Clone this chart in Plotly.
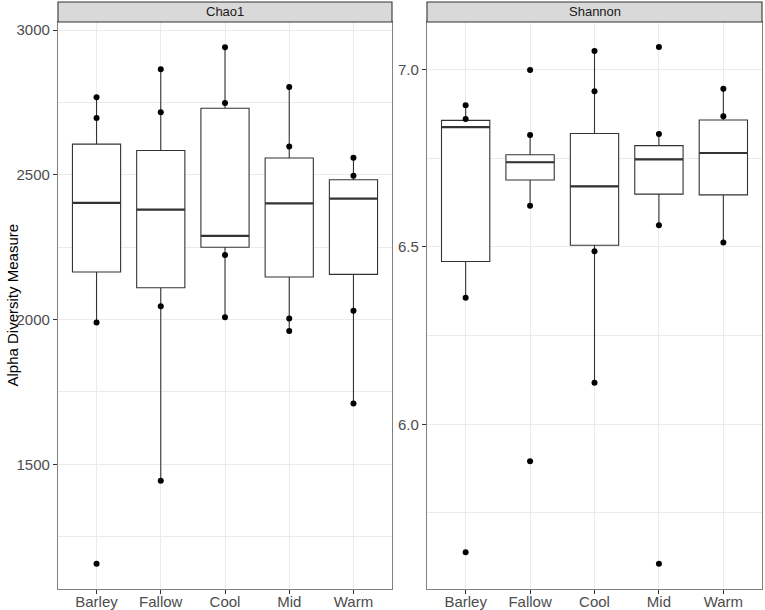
import plotly.graph_objects as go

categories = ["Barley", "Fallow", "Cool", "Mid", "Warm"]

# Chao1 box statistics
chao_q1 = [2164, 2110, 2250, 2147, 2156]
chao_med = [2403, 2380, 2289, 2401, 2418]
chao_q3 = [2606, 2584, 2730, 2558, 2483]
chao_lo = [1990, 1443, 2008, 1960, 1710]
chao_hi = [2768, 2865, 2941, 2803, 2559]

# Chao1 visible points (outside boxes)
chao_pt_cat = ["Barley", "Barley", "Barley", "Barley",
               "Fallow", "Fallow", "Fallow", "Fallow",
               "Cool", "Cool", "Cool", "Cool",
               "Mid", "Mid", "Mid", "Mid",
               "Warm", "Warm", "Warm", "Warm"]
chao_pt_val = [2768, 2696, 1990, 1156,
               2865, 2716, 2046, 1443,
               2941, 2748, 2223, 2008,
               2803, 2598, 2004, 1960,
               2559, 2497, 2030, 1710]

# Shannon box statistics
sha_q1 = [6.459, 6.689, 6.505, 6.649, 6.647]
sha_med = [6.838, 6.739, 6.671, 6.747, 6.765]
sha_q3 = [6.857, 6.760, 6.820, 6.786, 6.858]
sha_lo = [6.357, 6.616, 6.117, 6.561, 6.513]
sha_hi = [6.900, 6.816, 7.053, 6.819, 6.946]

sha_pt_cat = ["Barley", "Barley", "Barley", "Barley",
              "Fallow", "Fallow", "Fallow", "Fallow",
              "Cool", "Cool", "Cool", "Cool",
              "Mid", "Mid", "Mid", "Mid",
              "Warm", "Warm", "Warm"]
sha_pt_val = [6.900, 6.861, 6.357, 5.639,
              6.999, 6.816, 6.616, 5.896,
              7.053, 6.939, 6.488, 6.117,
              7.064, 6.819, 6.561, 5.607,
              6.946, 6.869, 6.513]

facet_titles = ["Chao1", "Shannon"]
y_title = "Alpha Diversity Measure"

W, H = 765, 610
LINE = "#333333"
GRID = "#EBEBEB"
BORDER = "#808080"

fig = go.Figure()


def add_panel(xa, ya, q1, med, q3, lo, hi, pcat, pval):
    fig.add_trace(go.Scatter(x=pcat, y=pval, mode="markers", xaxis=xa, yaxis=ya,
                             marker=dict(color="black", size=6), showlegend=False,
                             hoverinfo="skip"))
    fig.add_trace(go.Box(x=categories, q1=q1, median=med, q3=q3,
                         lowerfence=lo, upperfence=hi, xaxis=xa, yaxis=ya,
                         boxpoints=False, fillcolor="white",
                         line=dict(color=LINE, width=1.1), whiskerwidth=0,
                         width=0.75, showlegend=False))
    fig.add_trace(go.Scatter(x=categories, y=med, mode="markers", xaxis=xa, yaxis=ya,
                             marker=dict(symbol="line-ew", size=34.4, color=LINE,
                                         line=dict(color=LINE, width=2.2)),
                             showlegend=False, hoverinfo="skip"))


add_panel("x", "y", chao_q1, chao_med, chao_q3, chao_lo, chao_hi, chao_pt_cat, chao_pt_val)
add_panel("x2", "y2", sha_q1, sha_med, sha_q3, sha_lo, sha_hi, sha_pt_cat, sha_pt_val)

dom1 = [58 / W, 392 / W]
dom2 = [427 / W, 762 / W]
ydom = [1 - 589 / H, 1 - 22 / H]

xcommon = dict(type="category", categoryorder="array", categoryarray=categories,
               range=[-0.6, 4.6], showgrid=True, gridcolor=GRID, gridwidth=1.1,
               showline=True, mirror=True, linecolor=BORDER, linewidth=1.3,
               ticks="outside", ticklen=4, tickcolor=LINE, tickwidth=1,
               ticklabelstandoff=-5,
               tickfont=dict(family="Liberation Sans, Arial", size=15, color="#4D4D4D"),
               zeroline=False, automargin=False, fixedrange=True)
ycommon = dict(showgrid=True, gridcolor=GRID, gridwidth=1.1,
               showline=True, mirror=True, linecolor=BORDER, linewidth=1.3,
               ticks="outside", ticklen=4, tickcolor=LINE, tickwidth=1,
               tickfont=dict(family="Liberation Sans, Arial", size=15, color="#4D4D4D"),
               zeroline=False, automargin=False, fixedrange=True, domain=ydom)

fig.update_layout(
    width=W, height=H, margin=dict(l=0, r=0, t=0, b=0),
    paper_bgcolor="white", plot_bgcolor="white",
    xaxis=dict(xcommon, domain=dom1, anchor="y"),
    xaxis2=dict(xcommon, domain=dom2, anchor="y2"),
    yaxis=dict(ycommon, anchor="x", range=[1069, 3028], tick0=0, dtick=500,
               minor=dict(dtick=250, tick0=0, showgrid=True, gridcolor=GRID, gridwidth=0.55, ticks="")),
    yaxis2=dict(ycommon, anchor="x2", range=[5.5355, 7.1345], tick0=0, dtick=0.5, tickformat=".1f",
                minor=dict(dtick=0.25, tick0=0, showgrid=True, gridcolor=GRID, gridwidth=0.55, ticks="")),
    showlegend=False,
)

strip_y0 = 1 - 22 / H
strip_y1 = 1 - 2 / H
for dom, title in zip([dom1, dom2], facet_titles):
    fig.add_shape(type="rect", xref="paper", yref="paper", x0=dom[0], x1=dom[1],
                  y0=strip_y0, y1=strip_y1, fillcolor="#D9D9D9",
                  line=dict(color=LINE, width=1.1), layer="above")
    fig.add_annotation(x=(dom[0] + dom[1]) / 2, y=(strip_y0 + strip_y1) / 2,
                       xref="paper", yref="paper", text=title, showarrow=False,
                       font=dict(family="Liberation Sans, Arial", size=13, color="#1A1A1A"),
                       xanchor="center", yanchor="middle")

fig.add_annotation(x=12 / W, y=(ydom[0] + ydom[1]) / 2, xref="paper", yref="paper",
                   text=y_title, textangle=-90, showarrow=False,
                   font=dict(family="Liberation Sans, Arial", size=15, color="black"),
                   xanchor="center", yanchor="middle")

fig.write_html("out.html", config={"displayModeBar": False},
               post_script="document.body.style.margin='0';document.body.style.overflow='hidden';")
